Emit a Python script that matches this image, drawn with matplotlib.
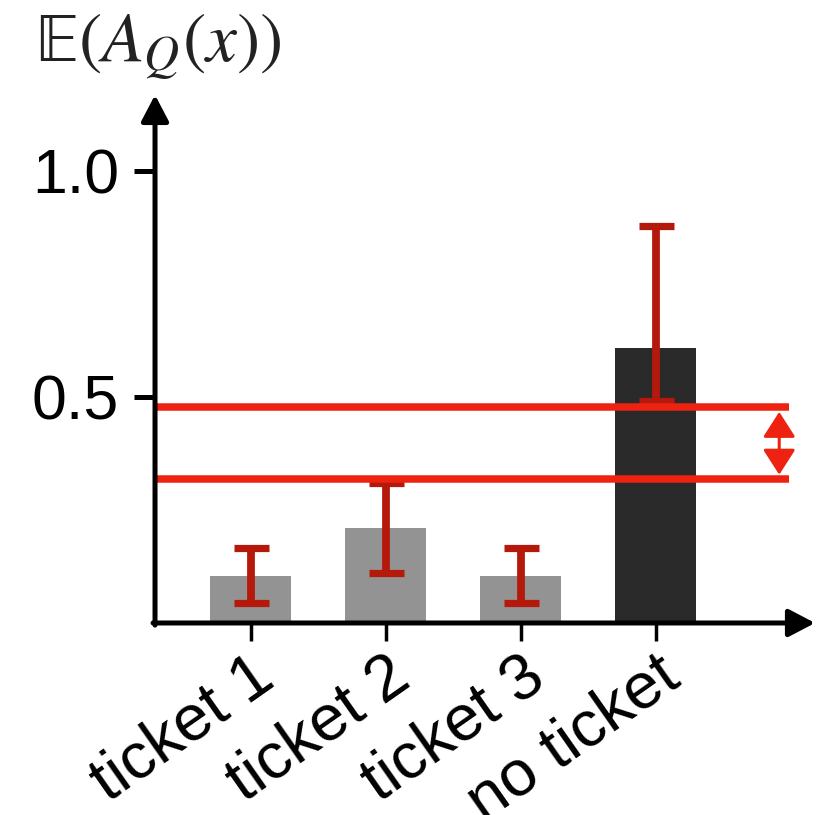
import numpy as np
import matplotlib.pyplot as plt

plt.rcParams['font.family'] = ['Liberation Sans', 'DejaVu Sans']
plt.rcParams['mathtext.fontset'] = 'stix'

# mean acceptance per ticket and its spread
categories = ['ticket 1', 'ticket 2', 'ticket 3', 'no ticket']
means = [0.105, 0.21, 0.105, 0.608]
err_low = [0.06, 0.10, 0.06, 0.118]
err_high = [0.06, 0.10, 0.06, 0.27]
bar_colors = ['#939393', '#939393', '#939393', '#2a2a2a']

# reference band
band = [0.319, 0.478]

yticks = [0.5, 1.0]
yticklabels = ['0.5', '1.0']

fig = plt.figure(figsize=(8.33, 8.15), dpi=100)
ax = fig.add_axes([0.1861, 0.2356, 0.7923, 0.6479])

x = np.arange(len(categories))
ax.bar(x, means, width=0.6, color=bar_colors, zorder=2)
ax.errorbar(x, means, yerr=[err_low, err_high], fmt='none', ecolor='#b5190b',
            elinewidth=5.6, capsize=12.6, capthick=5.2, zorder=3)

xmin, xmax = -0.707, 4.18
ax.hlines(band, xmin, 3.99, color='#ee2211', lw=5.4, zorder=4)

# double arrow across the band
ax.annotate('', xy=(3.915, 0.467), xytext=(3.915, 0.328),
            arrowprops=dict(arrowstyle='<|-|>,head_length=0.78,head_width=0.5',
                            mutation_scale=20, color='#ee2211', lw=2.2,
                            shrinkA=0, shrinkB=0), zorder=5)

ax.set_xlim(xmin, xmax)
ax.set_ylim(0, 1.168)

for s in ax.spines.values():
    s.set_visible(False)

# axes drawn as arrows
arrow = dict(arrowstyle='-|>,head_length=0.8,head_width=0.42', mutation_scale=20,
             color='black', lw=3.6, shrinkA=0, shrinkB=0)
ax.annotate('', xy=(0, 1), xytext=(0, -0.004), xycoords='axes fraction',
            arrowprops=arrow, zorder=6)
ax.annotate('', xy=(1, 0), xytext=(-0.003, 0), xycoords='axes fraction',
            arrowprops=arrow, zorder=6)

ax.set_yticks(yticks)
ax.set_yticklabels(yticklabels, fontsize=45)
ax.tick_params(axis='y', length=15, width=3.6, pad=11)

ax.set_xticks(x)
ax.set_xticklabels(categories, fontsize=47, rotation=35, ha='right', va='top',
                   rotation_mode='anchor')
ax.tick_params(axis='x', length=13, width=2.5, pad=3)

fig.text(0.042, 0.924, r'$\mathrm{\mathbb{E}}(A_Q(x))$', fontsize=50, ha='left',
         va='baseline', color='#222222')

fig.savefig('out.png', dpi=100)
